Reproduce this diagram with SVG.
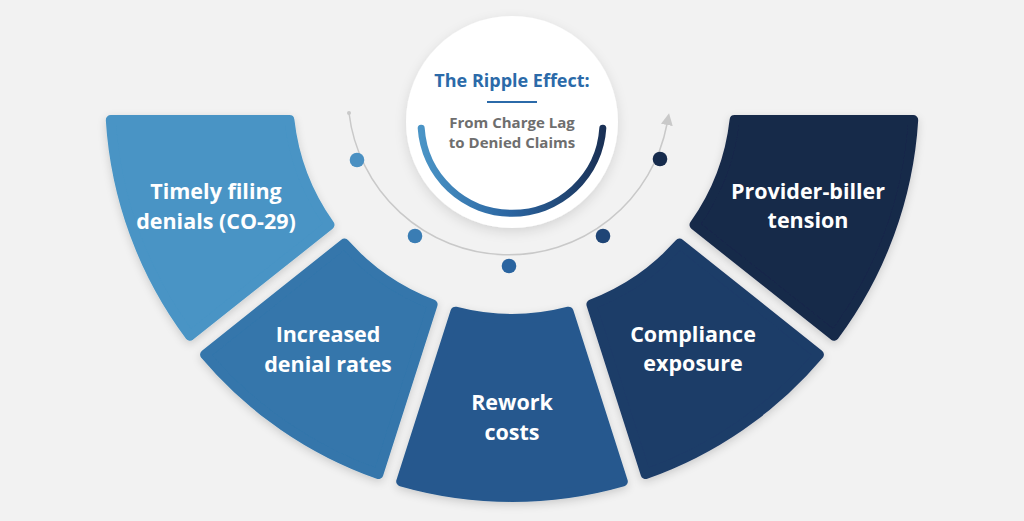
<svg xmlns="http://www.w3.org/2000/svg" width="1024" height="521" viewBox="0 0 1024 521">
  <defs>
    <style>
      .seg { stroke-width: 10; stroke-linejoin: round; filter: url(#shadow); }
      .lbl { font-family: "Open Sans", Lato, "Liberation Sans", sans-serif; font-weight: 700; font-size: 21.5px; fill: #ffffff; text-anchor: middle; }
      .title { font-family: "Open Sans", Lato, "Liberation Sans", sans-serif; font-weight: 700; font-size: 18px; fill: #2b6aa9; text-anchor: middle; }
      .sub { font-family: "Open Sans", Lato, "Liberation Sans", sans-serif; font-weight: 700; font-size: 15px; fill: #6e6e6e; text-anchor: middle; }
      .track { fill: none; stroke: #c9c9c9; stroke-width: 1.5; }
    </style>
    <filter id="shadow" x="-20%" y="-20%" width="140%" height="140%">
      <feDropShadow dx="0" dy="3" stdDeviation="4" flood-color="#000000" flood-opacity="0.16"/>
    </filter>
    <filter id="cshadow" x="-20%" y="-20%" width="140%" height="140%">
      <feDropShadow dx="0" dy="4" stdDeviation="6" flood-color="#000000" flood-opacity="0.12"/>
    </filter>
    <linearGradient id="arcGrad" x1="421" y1="0" x2="603" y2="0" gradientUnits="userSpaceOnUse">
      <stop offset="0" stop-color="#4a94c6"/>
      <stop offset="0.5" stop-color="#2a64a0"/>
      <stop offset="1" stop-color="#1a3156"/>
    </linearGradient>
    <marker id="arrow" viewBox="0 0 12 12" refX="1" refY="6" markerWidth="12" markerHeight="12" markerUnits="userSpaceOnUse" orient="auto">
      <path d="M0,0 L12,6 L0,12 Z" fill="#c9c9c9"/>
    </marker>
  </defs>

  <rect width="1024" height="521" fill="#f2f2f2"/>

  <g id="connectors">
    <path class="track" d="M349,113 A161,161 0 0 0 667,124" marker-end="url(#arrow)"/>
    <circle cx="349" cy="113" r="2" fill="#c9c9c9"/>
    <circle cx="357" cy="160" r="7.3" fill="#4a90c2"/>
    <circle cx="415" cy="236" r="7.3" fill="#3a7db4"/>
    <circle cx="509" cy="266" r="7.3" fill="#2a64a0"/>
    <circle cx="603" cy="236" r="7.3" fill="#1f4576"/>
    <circle cx="660" cy="159" r="7.3" fill="#162b4c"/>
  </g>

  <g id="center">
    <circle cx="512" cy="122" r="106" fill="#ffffff" filter="url(#cshadow)"/>
    <path d="M421.2,128.3 A91,91 0 0 0 602.8,128.3" fill="none" stroke="url(#arcGrad)" stroke-width="7" stroke-linecap="round"/>
    <text class="title" x="512" y="87">The Ripple Effect:</text>
    <rect x="487" y="101" width="50" height="2" fill="#2b6aa9"/>
    <text class="sub" x="512" y="128">From Charge Lag</text>
    <text class="sub" x="512" y="148">to Denied Claims</text>
  </g>

  <g id="seg1">
    <path class="seg" fill="#4894c5" stroke="#4894c5" d="M329.5,224.9 A224,224 0 0 1 289.4,120 L110.8,120 A402,402 0 0 0 190.0,335.7 Z"/>
    <text class="lbl" x="216" y="199">Timely filing</text>
    <text class="lbl" x="216" y="229">denials (CO-29)</text>
  </g>

  <g id="seg2">
    <path class="seg" fill="#3476ab" stroke="#3476ab" d="M432.6,304.4 A224,224 0 0 1 344.4,243.6 L205.1,354.6 A402,402 0 0 0 378.4,474.1 Z"/>
    <text class="lbl" x="328" y="342">Increased</text>
    <text class="lbl" x="328" y="372">denial rates</text>
  </g>

  <g id="seg3">
    <path class="seg" fill="#26598e" stroke="#26598e" d="M455.4,311.7 A224,224 0 0 0 568.6,311.7 L622.8,481.4 A402,402 0 0 1 401.2,481.4 Z"/>
    <text class="lbl" x="512" y="410">Rework</text>
    <text class="lbl" x="512" y="440">costs</text>
  </g>

  <g id="seg4">
    <path class="seg" fill="#1e3c68" stroke="#1e3c68" d="M591.4,304.4 A224,224 0 0 0 679.6,243.6 L818.9,354.6 A402,402 0 0 1 645.6,474.1 Z"/>
    <text class="lbl" x="693" y="342">Compliance</text>
    <text class="lbl" x="693" y="371">exposure</text>
  </g>

  <g id="seg5">
    <path class="seg" fill="#16294a" stroke="#16294a" d="M694.5,224.9 A224,224 0 0 0 734.6,120 L913.2,120 A402,402 0 0 1 834.0,335.7 Z"/>
    <text class="lbl" x="808" y="199">Provider-biller</text>
    <text class="lbl" x="808" y="228">tension</text>
  </g>
</svg>
